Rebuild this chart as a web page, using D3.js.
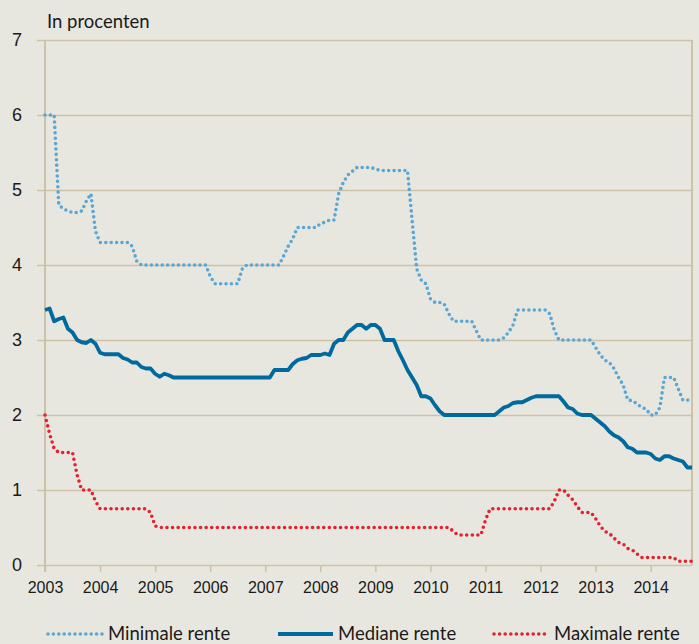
<!DOCTYPE html>
<html>
<head>
<meta charset="utf-8">
<script src="https://cdn.jsdelivr.net/npm/d3@7"></script>
<style>
  html, body { margin: 0; padding: 0; background: #e8e7df; }
  svg { display: block; font-family: Lato, "Open Sans", sans-serif; font-variant-numeric: oldstyle-nums; }
</style>
</head>
<body>
<div id="chart"></div>
<script>
// monthly values, Jan 2003 .. Oct 2014
const years = [2003, 2004, 2005, 2006, 2007, 2008, 2009, 2010, 2011, 2012, 2013, 2014];
const yTicks = [0, 1, 2, 3, 4, 5, 6, 7];

const minimale = [
  6.0, 6.0, 6.0, 4.8, 4.75, 4.72, 4.7, 4.7, 4.72, 4.85, 4.95, 4.45,
  4.3, 4.3, 4.3, 4.3, 4.3, 4.3, 4.3, 4.25, 4.05, 4.0, 4.0, 4.0,
  4.0, 4.0, 4.0, 4.0, 4.0, 4.0, 4.0, 4.0, 4.0, 4.0, 4.0, 4.0,
  3.85, 3.75, 3.75, 3.75, 3.75, 3.75, 3.75, 3.95, 4.0, 4.0, 4.0, 4.0,
  4.0, 4.0, 4.0, 4.0, 4.12, 4.25, 4.35, 4.5, 4.5, 4.5, 4.5, 4.5,
  4.55, 4.57, 4.6, 4.6, 4.95, 5.1, 5.2, 5.25, 5.3, 5.3, 5.3, 5.3,
  5.28, 5.26, 5.26, 5.26, 5.26, 5.26, 5.26, 5.26, 4.6, 3.95, 3.8, 3.75,
  3.55, 3.5, 3.5, 3.48, 3.35, 3.25, 3.25, 3.25, 3.25, 3.25, 3.12, 3.0,
  3.0, 3.0, 3.0, 3.0, 3.03, 3.1, 3.2, 3.4, 3.4, 3.4, 3.4, 3.4,
  3.4, 3.4, 3.35, 3.13, 3.0, 3.0, 3.0, 3.0, 3.0, 3.0, 3.0, 3.0,
  2.9, 2.8, 2.73, 2.7, 2.62, 2.5, 2.4, 2.2, 2.19, 2.15, 2.1, 2.08,
  2.0, 2.0, 2.1, 2.5, 2.5, 2.5, 2.35, 2.2, 2.2, 2.2
];

const mediane = [
  3.4, 3.42, 3.25, 3.28, 3.3, 3.15, 3.1, 3.0, 2.97, 2.96, 3.0, 2.95,
  2.83, 2.81, 2.81, 2.81, 2.81, 2.76, 2.74, 2.7, 2.7, 2.64, 2.62, 2.62,
  2.55, 2.51, 2.55, 2.53, 2.5, 2.5, 2.5, 2.5, 2.5, 2.5, 2.5, 2.5,
  2.5, 2.5, 2.5, 2.5, 2.5, 2.5, 2.5, 2.5, 2.5, 2.5, 2.5, 2.5,
  2.5, 2.5, 2.6, 2.6, 2.6, 2.6, 2.68, 2.73, 2.75, 2.76, 2.8, 2.8,
  2.8, 2.82, 2.8, 2.95, 3.0, 3.0, 3.1, 3.15, 3.2, 3.2, 3.15, 3.2,
  3.2, 3.15, 3.0, 3.0, 3.0, 2.85, 2.73, 2.6, 2.5, 2.4, 2.25, 2.25,
  2.22, 2.13, 2.05, 2.0, 2.0, 2.0, 2.0, 2.0, 2.0, 2.0, 2.0, 2.0,
  2.0, 2.0, 2.0, 2.05, 2.1, 2.12, 2.16, 2.17, 2.17, 2.2, 2.23, 2.25,
  2.25, 2.25, 2.25, 2.25, 2.25, 2.18, 2.1, 2.08, 2.02, 2.0, 2.0, 2.0,
  1.95, 1.9, 1.85, 1.78, 1.73, 1.7, 1.65, 1.57, 1.55, 1.5, 1.5, 1.5,
  1.48, 1.42, 1.4, 1.45, 1.45, 1.42, 1.4, 1.38, 1.3, 1.3
];

const maximale = [
  2.0, 1.75, 1.55, 1.5, 1.5, 1.5, 1.5, 1.2, 1.0, 1.0, 1.0, 0.85,
  0.75, 0.75, 0.75, 0.75, 0.75, 0.75, 0.75, 0.75, 0.75, 0.75, 0.75, 0.7,
  0.52, 0.5, 0.5, 0.5, 0.5, 0.5, 0.5, 0.5, 0.5, 0.5, 0.5, 0.5,
  0.5, 0.5, 0.5, 0.5, 0.5, 0.5, 0.5, 0.5, 0.5, 0.5, 0.5, 0.5,
  0.5, 0.5, 0.5, 0.5, 0.5, 0.5, 0.5, 0.5, 0.5, 0.5, 0.5, 0.5,
  0.5, 0.5, 0.5, 0.5, 0.5, 0.5, 0.5, 0.5, 0.5, 0.5, 0.5, 0.5,
  0.5, 0.5, 0.5, 0.5, 0.5, 0.5, 0.5, 0.5, 0.5, 0.5, 0.5, 0.5,
  0.5, 0.5, 0.5, 0.5, 0.5, 0.45, 0.4, 0.4, 0.4, 0.4, 0.4, 0.4,
  0.6, 0.75, 0.75, 0.75, 0.75, 0.75, 0.75, 0.75, 0.75, 0.75, 0.75, 0.75,
  0.75, 0.75, 0.75, 0.85, 1.0, 1.0, 0.93, 0.87, 0.78, 0.7, 0.7, 0.7,
  0.62, 0.52, 0.45, 0.42, 0.36, 0.3, 0.28, 0.22, 0.2, 0.15, 0.1, 0.1,
  0.1, 0.1, 0.1, 0.1, 0.1, 0.1, 0.05, 0.05, 0.05, 0.05
];

const seriesNames = ["Minimale rente", "Mediane rente", "Maximale rente"];

const width = 699, height = 644;
const grid = "#cdc1a8";

const svg = d3.select("#chart")
  .append("svg")
    .attr("width", width)
    .attr("height", height)

svg.append("rect").attr("width", width).attr("height", height).attr("fill", "#e8e7df")

const x = d3.scaleLinear()
  .domain([0, minimale.length - 1])
  .range([45, 692])

const y = d3.scaleLinear()
  .domain([0, 7])
  .range([565, 40])

// horizontal gridlines + y labels
const yAxis = d3.axisLeft(y)
  .tickValues(yTicks)
  .tickSize(-(692 - 37))
  .tickPadding(15)
  .tickFormat(d3.format("d"))

svg.append("g")
  .attr("transform", "translate(37,0)")
  .call(yAxis)
  .call(g => g.select(".domain").remove())
  .call(g => g.selectAll(".tick line")
      .attr("transform", "translate(" + (692 - 37) + ",0)")
      .attr("x1", -(692 - 37)).attr("x2", 0)
      .attr("stroke", grid).attr("stroke-width", 1.5))
  .call(g => g.selectAll(".tick text")
      .attr("font-size", 18).attr("fill", "#1a1a1a")
      .attr("text-anchor", "middle").attr("x", -20))

// x axis with ticks below
const xAxis = d3.axisBottom(x)
  .tickValues(years.map((yr, i) => i * 12))
  .tickSize(7)
  .tickPadding(10)
  .tickFormat((d, i) => years[i])

svg.append("g")
  .attr("transform", "translate(0,565)")
  .call(xAxis)
  .call(g => g.select(".domain").remove())
  .call(g => g.selectAll(".tick line").attr("stroke", grid).attr("stroke-width", 1.5))
  .call(g => g.selectAll(".tick text").attr("font-size", 16).attr("fill", "#1a1a1a"))

// frame: left axis and right border
svg.append("line")
  .attr("x1", x(0)).attr("x2", x(0))
  .attr("y1", y(7)).attr("y2", 572)
  .attr("stroke", grid).attr("stroke-width", 2)
svg.append("line")
  .attr("x1", 692).attr("x2", 692)
  .attr("y1", y(7)).attr("y2", y(0))
  .attr("stroke", grid).attr("stroke-width", 2)

svg.append("text")
  .attr("x", 47).attr("y", 28)
  .attr("font-size", 18.5)
  .attr("fill", "#1a1a1a")
  .text("In procenten")

const line = d3.line()
  .x((d, i) => x(i))
  .y(d => y(d))

const styles = [
  { color: "#5aa7d5", width: 3.6, dash: "0 5.4", cap: "round" },
  { color: "#006a9e", width: 3.8, dash: null, cap: "butt" },
  { color: "#e2222f", width: 3.6, dash: "0 5.6", cap: "round" }
]
const allSeries = [minimale, mediane, maximale]

allSeries.forEach((s, k) => {
  const st = styles[k]
  svg.append("path")
    .datum(s)
    .attr("fill", "none")
    .attr("stroke", st.color)
    .attr("stroke-width", st.width)
    .attr("stroke-linecap", st.cap)
    .attr("stroke-linejoin", "round")
    .attr("stroke-dasharray", st.dash)
    .attr("d", line)
})

// legend
const legendX = [48, 278, 494]
const legend = svg.append("g")
seriesNames.forEach((name, k) => {
  const st = styles[k]
  legend.append("line")
    .attr("x1", legendX[k]).attr("x2", legendX[k] + 55)
    .attr("y1", 634).attr("y2", 634)
    .attr("stroke", st.color)
    .attr("stroke-width", st.width)
    .attr("stroke-linecap", st.cap)
    .attr("stroke-dasharray", st.dash)
  legend.append("text")
    .attr("x", legendX[k] + 60).attr("y", 640)
    .attr("font-size", 18.5)
    .attr("fill", "#1a1a1a")
    .text(name)
})
</script>
</body>
</html>
